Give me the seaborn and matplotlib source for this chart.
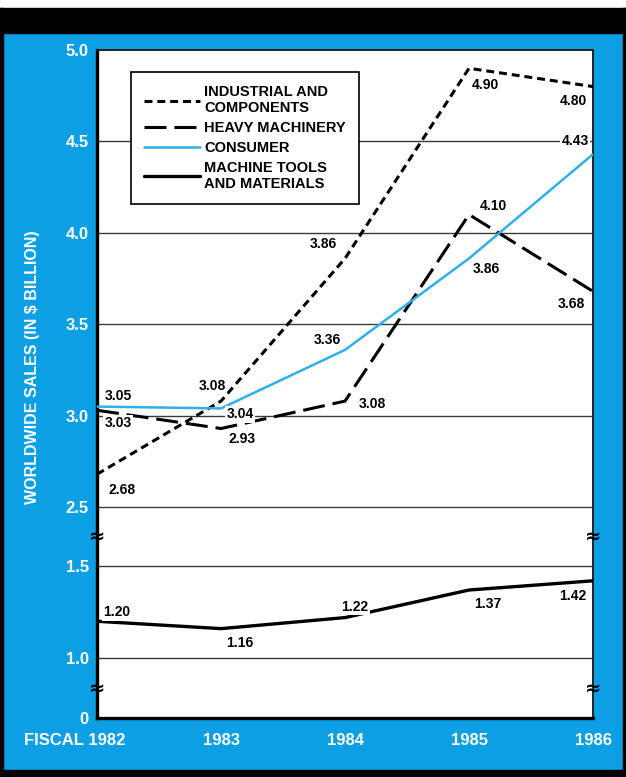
import numpy as np
import pandas as pd
import matplotlib
matplotlib.use('Agg')
import matplotlib.pyplot as plt
import matplotlib.transforms as mtransforms
from matplotlib.patches import Rectangle
import seaborn as sns

# ---- data ----
years = [1982, 1983, 1984, 1985, 1986]
year_labels = ['FISCAL 1982', '1983', '1984', '1985', '1986']
industrial = [2.68, 3.08, 3.86, 4.90, 4.80]
heavy = [3.03, 2.93, 3.08, 4.10, 3.68]
consumer = [3.05, 3.04, 3.36, 3.86, 4.43]
machine_tools = [1.20, 1.16, 1.22, 1.37, 1.42]
series_names = ['INDUSTRIAL AND\nCOMPONENTS', 'HEAVY MACHINERY', 'CONSUMER',
                'MACHINE TOOLS\nAND MATERIALS']
ytick_vals = [0, 1.0, 1.5, 2.5, 3.0, 3.5, 4.0, 4.5, 5.0]
ytick_labels = ['0', '1.0', '1.5', '2.5', '3.0', '3.5', '4.0', '4.5', '5.0']

# label offsets (pixels) for the value annotations
offsets = {
    'industrial': [(25, -16), (-9, 15), (-22, 14), (16, -17), (-20, -14)],
    'heavy': [(21, -13), (21, -10), (27, -3), (24, 9), (-22, -13)],
    'consumer': [(21, 11), (19, -6), (-18, 10), (17, -11), (-18, 13)],
    'machine': [(20, 9), (19, -14), (10, 11), (19, -14), (-20, -15)],
}

BLUE = '#0c9fe4'
CYAN = '#2fb0e6'

# broken y axis: piecewise linear scale
brk_in = np.array([-1.0, 0, 1.0, 1.5, 2.5, 5.0, 7.0])
brk_out = np.array([-60.0, 0, 60, 152, 211, 668.5, 1034.5])

def fwd(v):
    return np.interp(v, brk_in, brk_out)

def inv(v):
    return np.interp(v, brk_out, brk_in)

sns.set_style('white')
plt.rcParams['font.family'] = ['Liberation Sans', 'DejaVu Sans']
plt.rcParams['font.weight'] = 'bold'

fig = plt.figure(figsize=(6.26, 7.77), dpi=100, facecolor=BLUE)
H = 777.0
W = 626.0
fig.patches.append(Rectangle((0, 1 - 8 / H), 1, 8 / H, transform=fig.transFigure,
                             color='white', zorder=0))
fig.patches.append(Rectangle((0, 1 - 33 / H), 1, 25 / H, transform=fig.transFigure,
                             color='black', zorder=0))
fig.patches.append(Rectangle((0, 0), 1, 7 / H, transform=fig.transFigure,
                             color='black', zorder=0))
fig.patches.append(Rectangle((0, 0), 3 / W, 1 - 8 / H, transform=fig.transFigure,
                             color='black', zorder=0))
fig.patches.append(Rectangle((1 - 3 / W, 0), 3 / W, 1 - 8 / H, transform=fig.transFigure,
                             color='black', zorder=0))

ax = fig.add_axes([97 / W, 1 - 718 / H, (593 - 97) / W, (718 - 50) / H])
ax.set_facecolor('white')
ax.set_yscale('function', functions=(fwd, inv))

ax.set_ylim(0, 5.0)
ax.set_xlim(1982, 1986)
ax.set_yticks(ytick_vals)
ax.set_yticklabels(ytick_labels)
ax.set_xticks(years)
ax.set_xticklabels(year_labels)
ax.yaxis.set_minor_locator(matplotlib.ticker.NullLocator())

for v in ytick_vals[1:-1]:
    ax.axhline(v, color='#3a3a3a', lw=1.0, zorder=1)

sns.lineplot(x=years, y=industrial, ax=ax, color='black', lw=2.2,
             linestyle=(0, (2.6, 1.6)), label=series_names[0], zorder=3)
sns.lineplot(x=years, y=heavy, ax=ax, color='black', lw=2.2,
             linestyle=(0, (7.2, 2.6)), label=series_names[1], zorder=3)
sns.lineplot(x=years, y=consumer, ax=ax, color=CYAN, lw=1.8,
             label=series_names[2], zorder=3)
sns.lineplot(x=years, y=machine_tools, ax=ax, color='black', lw=2.4,
             label=series_names[3], zorder=3)

# value annotations
for key, vals in [('industrial', industrial), ('heavy', heavy),
                  ('consumer', consumer), ('machine', machine_tools)]:
    for x, v, off in zip(years, vals, offsets[key]):
        ax.annotate(f'{v:.2f}', (x, v), xytext=off, textcoords='offset pixels',
                    ha='center', va='center', fontsize=10, fontweight='bold',
                    color='black', zorder=5, annotation_clip=False,
                    bbox=dict(boxstyle='square,pad=0.1', fc='white', ec='none'))

# axis break marks
btrans = mtransforms.blended_transform_factory(ax.transAxes, ax.transData)
for xb in (0, 1):
    for yb in (2.0, 0.5):
        ax.text(xb, yb, '≈', transform=btrans, ha='center', va='center',
                fontsize=14, fontweight='bold', color='black',
                family=['DejaVu Sans'], clip_on=False, zorder=6)

# spines
for side in ['left', 'bottom']:
    ax.spines[side].set_color('black')
    ax.spines[side].set_linewidth(2.4)
for side in ['top', 'right']:
    ax.spines[side].set_color('#222222')
    ax.spines[side].set_linewidth(1.4)

ax.tick_params(axis='both', length=0, colors='white', labelsize=12)
ax.tick_params(axis='y', pad=6)
ax.tick_params(axis='x', pad=11)
for lab in ax.get_xticklabels() + ax.get_yticklabels():
    lab.set_fontweight('bold')
first = ax.get_xticklabels()[0]
first.set_transform(first.get_transform() +
                    mtransforms.ScaledTranslation(-22 / 100, 0, fig.dpi_scale_trans))

ax.set_xlabel('')
ax.set_ylabel('WORLDWIDE SALES (IN $ BILLION)', color='white', fontsize=11.5,
              fontweight='bold')
ax.yaxis.set_label_coords((40 - 97) / 496, (718 - 367) / 668)

leg = ax.legend(loc='upper left', bbox_to_anchor=((131 - 97) / 496, (718 - 72) / 668),
                borderaxespad=0, frameon=True, fancybox=False, framealpha=1,
                edgecolor='black', facecolor='white', fontsize=10.5,
                handlelength=3.8, handletextpad=0.3, labelspacing=0.4,
                borderpad=0.9)
leg.get_frame().set_linewidth(1.2)
leg.set_zorder(7)
for t in leg.get_texts():
    t.set_fontweight('bold')
    t.set_color('black')

fig.savefig('out.png', dpi=100, facecolor=fig.get_facecolor())
